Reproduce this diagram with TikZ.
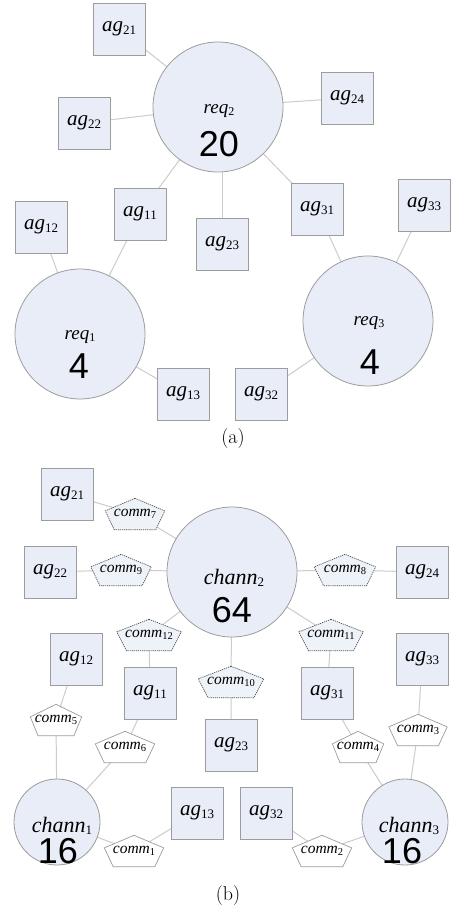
\documentclass[tikz,border=0pt]{standalone}
\usepackage{fontspec}
\newfontfamily\timesfam{Liberation Serif}[ItalicFont={Liberation Serif Italic}]
\newfontfamily\arialfam{Liberation Sans}
\usetikzlibrary{calc}
\pgfdeclarelayer{bg}\pgfdeclarelayer{mid}\pgfsetlayers{bg,mid,main}
\definecolor{nodefill}{HTML}{E8EDF7}
\definecolor{nodeline}{HTML}{9C9C9C}
\definecolor{edgecol}{HTML}{CCCCCC}
\definecolor{dashfill}{HTML}{EEF2F9}
\definecolor{dashline}{HTML}{505050}
\newcommand\agl[1]{{\timesfam\itshape ag}\raisebox{-2.5pt}{\timesfam\fontsize{13}{13}\selectfont #1}}
\newcommand\cml[1]{{\timesfam\itshape comm}\raisebox{-1.5pt}{\timesfam\fontsize{10.5}{10.5}\selectfont #1}}
\newcommand\rql[1]{{\timesfam\itshape req}\raisebox{-2pt}{\timesfam\fontsize{12}{12}\selectfont #1}}
\newcommand\chl[1]{{\timesfam\itshape chann}\raisebox{-2pt}{\timesfam\fontsize{13}{13}\selectfont #1}}
\newcommand\pent[2]{\path[#2] (#1.north) -- ($(#1.west)!0.2!(#1.north west)$) -- ($(#1.south west)!0.15!(#1.south east)$) -- ($(#1.south east)!0.15!(#1.south west)$) -- ($(#1.east)!0.2!(#1.north east)$) -- cycle;}
\tikzset{
  agbox/.style={draw=nodeline, fill=nodefill, line width=0.8pt, minimum size=52, inner sep=0, font=\timesfam\fontsize{21}{21}\selectfont},
  bigcirc/.style={circle, draw=nodeline, fill=nodefill, line width=0.8pt, minimum size=#1, inner sep=0},
  lnk/.style={draw=edgecol, line width=1pt},
  nametxt/.style={font=\timesfam\fontsize{19}{19}\selectfont, inner sep=0},
  chtxt/.style={font=\timesfam\fontsize{22}{22}\selectfont, inner sep=0},
  numtxt/.style={font=\arialfam\fontsize{36}{36}\selectfont, inner sep=0},
  commnode/.style={inner sep=0, minimum width=#1, minimum height=31, font=\timesfam\fontsize{15.5}{15.5}\selectfont},
  dpent/.style={fill=dashfill, draw=dashline, line width=0.7pt, dash pattern=on 1.2pt off 0.9pt},
  spent/.style={fill=white, draw=nodeline, line width=0.7pt},
  captxt/.style={font=\fontsize{20}{24}\selectfont, inner sep=0}
}
\begin{document}
\begin{tikzpicture}[x=1pt,y=-1pt]
\begin{pgfonlayer}{bg}
\fill[white] (0,0) rectangle (450,912);
\end{pgfonlayer}
\useasboundingbox (0,0) rectangle (450,912);
% ---------------- (a) ----------------
\node[bigcirc=130] (req2) at (218,107) {};
\node[bigcirc=130] (req1) at (80,334) {};
\node[bigcirc=130] (req3) at (368,321) {};
\node[nametxt] (req2t) at (219,111) {\rql{2}};
\node[numtxt]  (req2n) at (219,144) {20};
\node[nametxt] (req1t) at (80,337) {\rql{1}};
\node[numtxt]  (req1n) at (79,366) {4};
\node[nametxt] (req3t) at (369,323) {\rql{3}};
\node[numtxt]  (req3n) at (370,362) {4};
\node[agbox] (a21) at (119,29) {\agl{21}};
\node[agbox] (a22) at (84,123) {\agl{22}};
\node[agbox] (a24) at (347,98) {\agl{24}};
\node[agbox] (a11) at (140,214) {\agl{11}};
\node[agbox] (a12) at (41,227) {\agl{12}};
\node[agbox] (a23) at (222,244) {\agl{23}};
\node[agbox] (a31) at (317,209) {\agl{31}};
\node[agbox] (a33) at (424,205) {\agl{33}};
\node[agbox] (a13) at (183,394) {\agl{13}};
\node[agbox] (a32) at (261,394) {\agl{32}};
\node[captxt] (capa) at (233,439) {(a)};
\begin{pgfonlayer}{bg}
\foreach \u/\v in {a21/req2,a22/req2,a24/req2,a11/req2,a31/req2,a12/req1,a11/req1,a13/req1,a31/req3,a33/req3,a32/req3}
  {\draw[lnk] (\u.center) -- (\v.center);}
\draw[lnk] (a23.center) -- (a23.center |- req2.center);
\end{pgfonlayer}
% ---------------- (b) ----------------
\node[bigcirc=130] (ch2) at (232,572) {};
\node[bigcirc=86] (ch1) at (57,822) {};
\node[bigcirc=86] (ch3) at (405,822) {};
\node[chtxt] (ch2t) at (234,578) {\chl{2}};
\node[numtxt] (ch2n) at (232,610) {64};
\node[chtxt] (ch1t) at (62,826) {\chl{1}};
\node[numtxt] (ch1n) at (58,851) {16};
\node[chtxt] (ch3t) at (409,826) {\chl{3}};
\node[numtxt] (ch3n) at (402,851) {16};
\node[agbox] (b21) at (67,494) {\agl{21}};
\node[agbox] (b22) at (50,572) {\agl{22}};
\node[agbox] (b24) at (422,572) {\agl{24}};
\node[agbox] (b12) at (76,659) {\agl{12}};
\node[agbox] (b33) at (422,659) {\agl{33}};
\node[agbox] (b11) at (150,693) {\agl{11}};
\node[agbox] (b31) at (327,693) {\agl{31}};
\node[agbox] (b23) at (231,745) {\agl{23}};
\node[agbox] (b13) at (197,813) {\agl{13}};
\node[agbox] (b32) at (266,813) {\agl{32}};
\node[commnode=59] (c7) at (135,514) {\cml{7}};
\node[commnode=60] (c9) at (121,570) {\cml{9}};
\node[commnode=61] (c8) at (345,570) {\cml{8}};
\node[commnode=64] (c12) at (149,635) {\cml{12}};
\node[commnode=64] (c11) at (331,635) {\cml{11}};
\node[commnode=65] (c10) at (231,682) {\cml{10}};
\node[commnode=51] (c5) at (56,720) {\cml{5}};
\node[commnode=59] (c6) at (125,747) {\cml{6}};
\node[commnode=51] (c4) at (358,747) {\cml{4}};
\node[commnode=58] (c3) at (418,730) {\cml{3}};
\node[commnode=59] (c1) at (134,851) {\cml{1}};
\node[commnode=59] (c2) at (322,851) {\cml{2}};
\node[captxt] (capb) at (228,895) {(b)};
\begin{pgfonlayer}{mid}
\foreach \n in {c7,c9,c8,c12,c11,c10} {\pent{\n}{dpent}}
\foreach \n in {c5,c6,c4,c3,c1,c2} {\pent{\n}{spent}}
\end{pgfonlayer}
\begin{pgfonlayer}{bg}
\foreach \u/\m/\v in {b21/c7/ch2,b22/c9/ch2,b24/c8/ch2,b11/c12/ch2,b31/c11/ch2,b23/c10/ch2,b12/c5/ch1,b11/c6/ch1,b13/c1/ch1,b31/c4/ch3,b33/c3/ch3,b32/c2/ch3}
  {\draw[lnk] (\u.center) -- (\m.center) -- (\v.center);}
\end{pgfonlayer}
\end{tikzpicture}
\end{document}
